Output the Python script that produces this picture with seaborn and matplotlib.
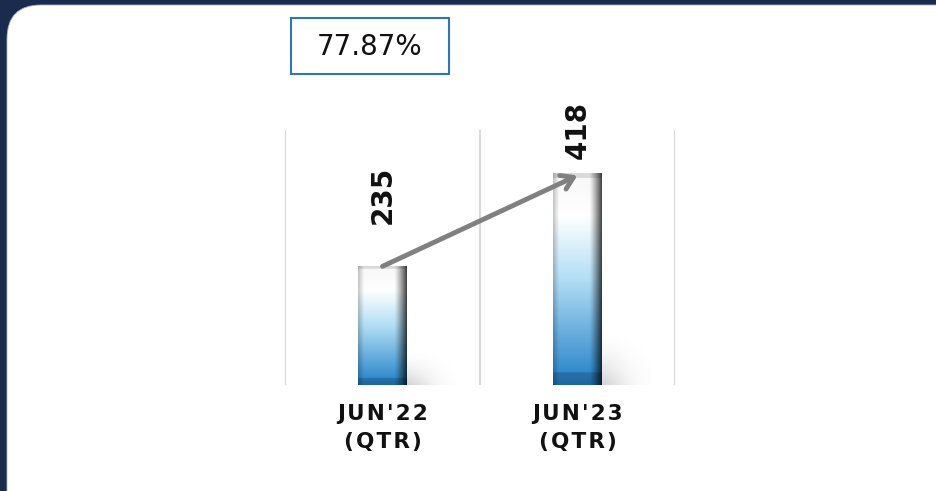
"""
plot.py - quarterly comparison bar chart (JUN'22 vs JUN'23) with growth box.
"""

import numpy as np
import matplotlib
matplotlib.use("Agg")
import matplotlib.pyplot as plt
from matplotlib.patches import FancyBboxPatch, Rectangle
import seaborn as sns

# data
periods = ["JUN'22\n(QTR)", "JUN'23\n(QTR)"]
values = [235, 418]
growth_label = "77.87%"

# style
NAVY = "#1b2b4d"
BOX_BLUE = "#2e75b6"
ARROW_GRAY = "#808080"
GRID_GRAY = "#d9d9d9"
LABEL_GAP_PX = [42, 15]   # gap between bar top and rotated value label

W, H, DPI = 937, 491, 100


def spaced(s):
    # mimic letter spacing of the original axis labels
    return "\n".join("\u200a".join(line) for line in s.split("\n"))


def bar_gradient(nx=60, ny=300):
    t = np.linspace(0, 1, ny)[:, None]          # 0 top -> 1 bottom
    stops = np.array([0.0, 0.2, 0.5, 1.0])
    cols = np.array([[0.97, 0.97, 0.97],
                     [1.00, 1.00, 1.00],
                     [0.70, 0.87, 0.96],
                     [0.13, 0.50, 0.78]])
    col = np.stack([np.interp(t[:, 0], stops, cols[:, k]) for k in range(3)], axis=1)
    col = np.repeat(col[:, None, :], nx, axis=1)
    u = np.linspace(0, 1, nx)[None, :]
    shade = np.ones_like(u)
    shade = np.where(u < 0.12, 0.78 + 0.22 * (u / 0.12), shade)
    shade = np.where(u > 0.75, 1.0 - 0.72 * ((u - 0.75) / 0.25) ** 1.2, shade)
    img = col * shade[..., None]
    # top and bottom bevels
    img[: int(ny * 0.025)] *= 0.88
    img[-int(ny * 0.06):] *= 0.82
    return np.clip(img, 0, 1)


def shadow_img(nx=80, ny=60):
    u = np.linspace(0, 1, nx)[None, :]
    v = np.linspace(0, 1, ny)[:, None]     # 0 top -> 1 bottom
    a = np.exp(-((u - 0.15) / 0.45) ** 2) * np.clip(v, 0, 1) ** 1.8 * 0.35
    img = np.zeros((ny, nx, 4))
    img[..., :3] = 0.5
    img[..., 3] = a
    return img


sns.set_theme(style="white")
plt.rcParams["font.family"] = ["DejaVu Sans"]

fig = plt.figure(figsize=(W / DPI, H / DPI), dpi=DPI)
fig.patch.set_facecolor(NAVY)

# background panel in pixel coordinates
bg = fig.add_axes([0, 0, 1, 1])
bg.set_xlim(0, W)
bg.set_ylim(H, 0)
bg.axis("off")
bg.add_patch(FancyBboxPatch((7 + 32, 5 + 32), 960, 560,
                            boxstyle="round,pad=32,rounding_size=34",
                            facecolor="white", edgecolor="#aab6c8", lw=0.6))
bg.add_patch(Rectangle((291, 18), 158, 56, facecolor="white",
                       edgecolor=BOX_BLUE, lw=1.5))
bg.text(370, 47, growth_label, ha="center", va="center",
        fontsize=20, color="#111111")

# chart axes
ax = fig.add_axes([285 / W, 1 - 385 / H, 390 / W, 255 / H])
ax.set_facecolor("none")
sns.barplot(x=periods, y=values, ax=ax, width=0.25, color="#2a86c8",
            linewidth=0, zorder=2)

grad = bar_gradient()
shad = shadow_img()
for p in ax.patches:
    x0, w, h = p.get_x(), p.get_width(), p.get_height()
    sh = min(h * 0.3, 110)
    ax.imshow(shad, extent=[x0 + w * 0.7, x0 + w * 2.0, 0, sh],
              aspect="auto", origin="upper", zorder=1.5)
    ax.imshow(grad, extent=[x0, x0 + w, 0, h], aspect="auto",
              origin="upper", zorder=2.5)

ax.set_xlim(-0.5, 1.5)
ax.set_ylim(0, 505)

# value labels
for p, v, gap in zip(ax.patches, values, LABEL_GAP_PX):
    ax.annotate(f"{v}", xy=(p.get_x() + p.get_width() / 2, v),
                xytext=(0, gap * 72 / DPI), textcoords="offset points",
                rotation=90, ha="center", va="bottom",
                fontsize=20, fontweight="bold", color="#111111")

# growth arrow between bar tops
ax.annotate("", xy=(1, values[1] - 3), xytext=(0, values[0]),
            arrowprops=dict(arrowstyle="->,head_length=0.7,head_width=0.45",
                            color=ARROW_GRAY, lw=3.5, shrinkA=0, shrinkB=0),
            zorder=4)

# vertical separators
for xv in [-0.5, 0.5, 1.5]:
    ax.axvline(xv, color=GRID_GRAY, lw=1.5, zorder=0)

ax.set_yticks([])
ax.set_xticks(range(len(periods)))
ax.set_xticklabels([spaced(s) for s in periods], fontsize=15.5,
                   fontweight="bold", color="#111111", linespacing=1.45)
ax.tick_params(axis="x", length=0, pad=14)
ax.set_xlabel("")
ax.set_ylabel("")
sns.despine(ax=ax, left=True, bottom=True)

fig.savefig("out.png", dpi=DPI, facecolor=NAVY)
